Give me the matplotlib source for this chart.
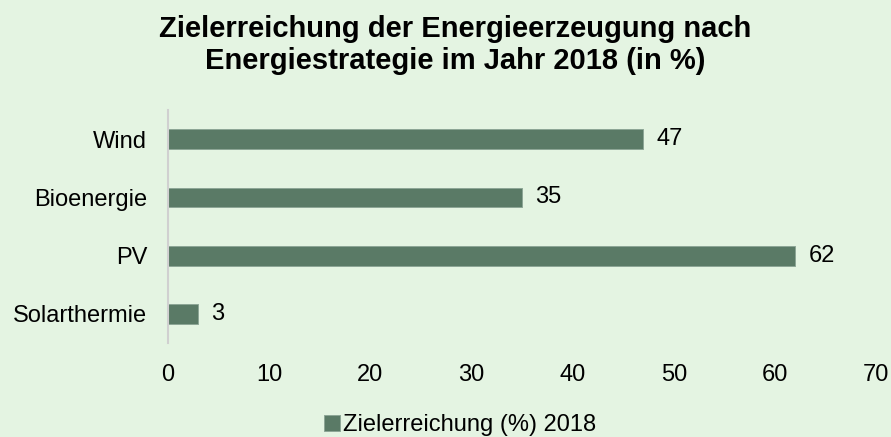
import matplotlib.pyplot as plt

categories = ['Wind', 'Bioenergie', 'PV', 'Solarthermie']
values = [47, 35, 62, 3]
series_name = 'Zielerreichung (%) 2018'

bg = '#E4F4E2'
bar_color = '#5A7A66'

plt.rcParams['font.family'] = ['Liberation Sans', 'DejaVu Sans']

fig = plt.figure(figsize=(8.91, 4.37), dpi=100, facecolor=bg)
ax = fig.add_axes([0.1886, 0.215, 0.7946, 0.533], facecolor=bg)

y = list(range(len(categories)))
bars = ax.barh(y, values, height=0.34, color=bar_color, edgecolor='#8DA696',
               linewidth=0.7, label=series_name)
ax.set_ylim(len(categories) - 0.5, -0.5)
ax.set_xlim(0, 70)
ax.set_yticks(y)
ax.set_yticklabels(categories, fontsize=17)
ax.set_xticks(range(0, 71, 10))
ax.tick_params(axis='x', labelsize=17, length=0, pad=15)
ax.tick_params(axis='y', length=0, pad=15)

for s in ['top', 'right', 'bottom']:
    ax.spines[s].set_visible(False)
ax.spines['left'].set_color('#D0D0D0')
ax.spines['left'].set_linewidth(1.5)

for b, v in zip(bars, values):
    ax.text(v + 1.3, b.get_y() + b.get_height() / 2, str(v),
            va='center', ha='left', fontsize=17)

fig.text(0.511, 0.897, 'Zielerreichung der Energieerzeugung nach\nEnergiestrategie im Jahr 2018 (in %)',
         ha='center', va='center', fontsize=21, fontweight='bold', linespacing=1.15)

fig.legend(loc='center', bbox_to_anchor=(0.516, 0.027), frameon=False, fontsize=17,
           handlelength=0.7, handleheight=0.7, handletextpad=0.1)

plt.savefig('out.png', dpi=100, facecolor=bg)
